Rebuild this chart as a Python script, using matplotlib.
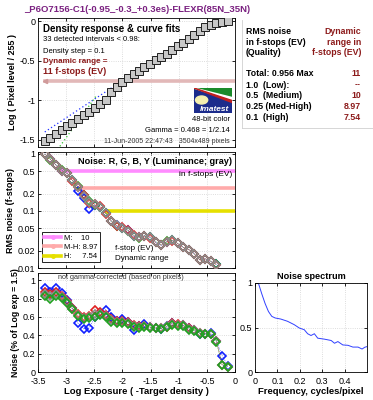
import numpy as np
import matplotlib
matplotlib.use("Agg")
import matplotlib.pyplot as plt
from matplotlib.lines import Line2D
from matplotlib.patches import Rectangle, Polygon, Circle

plt.rcParams['font.family'] = ['Liberation Sans', 'DejaVu Sans']
plt.rcParams['font.size'] = 6

# ---------------- data ----------------
log_exposure = [-3.38, -3.28, -3.18, -3.08, -2.99, -2.89, -2.79, -2.69, -2.59, -2.49,
                -2.39, -2.30, -2.20, -2.10, -2.00, -1.90, -1.80, -1.71, -1.61, -1.51,
                -1.41, -1.31, -1.21, -1.12, -1.02, -0.92, -0.82, -0.72, -0.62, -0.53,
                -0.43, -0.33, -0.23, -0.13]

log_pixel = [-1.51, -1.47, -1.42, -1.38, -1.33, -1.29, -1.24, -1.19, -1.15, -1.10,
             -1.05, -0.99, -0.90, -0.83, -0.77, -0.72, -0.67, -0.625, -0.58, -0.54,
             -0.49, -0.45, -0.41, -0.37, -0.32, -0.27, -0.22, -0.17, -0.12, -0.08,
             -0.045, -0.025, -0.012, -0.003]

gamma_fit_x = [-3.38, -0.95]
gamma_fit_y = [-1.40, -0.26]
shadow_fit_x = [-3.15, -2.45]
shadow_fit_y = [-1.62, -0.93]
dr_marker_y = -0.76

# RMS noise in f-stops (middle panel), NaN = not plotted
noise_fstop_Y = [1.0, 0.81, 0.64, 0.51, 0.47, 0.35, 0.265, 0.18, 0.144, 0.13,
                 0.117, 0.092, 0.068, 0.056, 0.051, 0.045, 0.037, 0.035, 0.037, 0.035,
                 0.028, 0.025, 0.029, 0.031, 0.027, 0.023, 0.021, 0.0177, 0.0138, 0.0145,
                 0.013, 0.0115, np.nan, np.nan]
noise_fstop_R = [0.98, 0.80, 0.63, 0.50, 0.46, 0.34, 0.26, 0.19, 0.14, 0.135,
                 0.12, 0.09, 0.066, 0.055, 0.052, 0.046, 0.038, 0.035, 0.036, 0.034,
                 0.028, 0.025, 0.028, 0.030, 0.027, 0.023, 0.021, 0.0175, 0.0137, 0.0146,
                 0.0132, 0.0114, np.nan, np.nan]
noise_fstop_G = [0.99, 0.79, 0.65, 0.52, 0.47, 0.35, 0.27, 0.19, 0.15, 0.128,
                 0.115, 0.093, 0.067, 0.054, 0.050, 0.044, 0.037, 0.034, 0.037, 0.035,
                 0.029, 0.025, 0.030, 0.031, 0.027, 0.023, 0.021, 0.0178, 0.0139, 0.0145,
                 0.0131, 0.0116, np.nan, np.nan]
noise_fstop_B = [1.0, 0.82, 0.64, 0.51, 0.46, 0.35, 0.225, 0.17, 0.11, 0.125,
                 0.118, 0.093, 0.066, 0.056, 0.051, 0.046, 0.036, 0.035, 0.037, 0.035,
                 0.028, 0.025, 0.029, 0.031, 0.027, 0.023, 0.021, 0.0177, 0.0138, 0.0145,
                 0.013, 0.0116, np.nan, np.nan]

# Noise as % of log exposure (bottom panel)
noise_pct_Y = [0.85, 0.83, 0.85, 0.82, 0.76, 0.69, 0.62, 0.59, 0.60, 0.63,
               0.63, 0.61, 0.57, 0.55, 0.55, 0.54, 0.50, 0.49, 0.50, 0.49,
               0.48, 0.48, 0.50, 0.52, 0.51, 0.51, 0.47, 0.46, 0.43, 0.42,
               0.42, 0.34, 0.08, 0.06]
noise_pct_R = [0.87, 0.85, 0.87, 0.83, 0.77, 0.70, 0.63, 0.60, 0.61, 0.68,
               0.66, 0.62, 0.58, 0.56, 0.56, 0.55, 0.51, 0.50, 0.50, 0.49,
               0.48, 0.48, 0.49, 0.53, 0.52, 0.51, 0.48, 0.46, 0.43, 0.42,
               0.41, 0.34, 0.08, 0.06]
noise_pct_G = [0.83, 0.80, 0.83, 0.81, 0.75, 0.69, 0.61, 0.58, 0.59, 0.60,
               0.62, 0.60, 0.55, 0.54, 0.54, 0.52, 0.49, 0.48, 0.49, 0.48,
               0.48, 0.47, 0.49, 0.51, 0.50, 0.50, 0.46, 0.45, 0.42, 0.41,
               0.41, 0.33, 0.08, 0.06]
noise_pct_B = [0.92, 0.87, 0.92, 0.86, 0.79, 0.70, 0.53, 0.47, 0.48, 0.60,
               0.64, 0.68, 0.60, 0.56, 0.58, 0.55, 0.46, 0.50, 0.52, 0.49,
               0.48, 0.47, 0.50, 0.53, 0.51, 0.51, 0.48, 0.46, 0.42, 0.42,
               0.43, 0.34, 0.18, 0.07]

# Dynamic-range thresholds (middle panel)
dr_levels = [0.5, 0.25, 0.1]
dr_start_x = [-3.10, -2.75, -2.28]
dr_colors = ['#ff8cff', '#ffaaaa', '#e6e000']
dr_labels = ['M:    10', 'M-H: 8.97', 'H:     7.54']

# Noise spectrum
freq = [0.015, 0.03, 0.045, 0.06, 0.075, 0.09, 0.115, 0.145, 0.175, 0.198,
        0.22, 0.235, 0.25, 0.265, 0.28, 0.31, 0.34, 0.355, 0.37, 0.392,
        0.415, 0.437, 0.46, 0.478, 0.49, 0.51]
spectrum = [1.0, 0.88, 0.77, 0.68, 0.625, 0.607, 0.595, 0.57, 0.532, 0.494,
            0.475, 0.43, 0.41, 0.43, 0.38, 0.369, 0.354, 0.323, 0.342, 0.304,
            0.30, 0.28, 0.28, 0.258, 0.278, 0.293]

# text table
table_left = ['Total: 0.956 Max', '1.0  (Low):', '0.5  (Medium)', '0.25 (Med-High)', '0.1  (High)']
table_right = ['11', '--', '10', '8.97', '7.54']

DARKRED = '#8c1a1a'
W, H = 373, 400


def box(l, t, r, b):
    return [l / W, 1 - b / H, (r - l) / W, (b - t) / H]


fig = plt.figure(figsize=(W / 100, H / 100), dpi=100)
fig.patch.set_facecolor('white')


def style(ax):
    ax.tick_params(direction='in', length=2.5, width=0.6, labelsize=6.5, pad=2,
                   top=True, right=True)
    for s in ax.spines.values():
        s.set_linewidth(0.6)
    ax.grid(True, color='#d2d2d2', linestyle=':', linewidth=0.6)
    ax.set_axisbelow(True)


fig.text(137 / W, 1 - 10 / H, '_P6O7156-C1(-0.95_-0.3_+0.3es)-FLEXR(85N_35N)',
         ha='center', va='center', fontsize=6.8, fontweight='bold', color='#7a2080')

# ---------------- top panel ----------------
ax1 = fig.add_axes(box(38, 18, 235, 147))
style(ax1)
ax1.set_xlim(-3.5, 0)
ax1.set_ylim(-1.59, 0.04)
ax1.set_xticks([-3.5, -3, -2.5, -2, -1.5, -1, -0.5, 0])
ax1.set_xticklabels([])
ax1.set_yticks([-1.5, -1, -0.5, 0])
ax1.set_yticklabels(['-1.5', '-1', '-0.5', '0'])
ax1.plot([log_exposure[0], 0], [dr_marker_y, dr_marker_y], color='#e2b8b8', lw=2.6, zorder=2)
ax1.plot([log_exposure[0]], [dr_marker_y], marker='<', color='#d09a9a', ms=3, zorder=2)
ax1.plot(gamma_fit_x, gamma_fit_y, color='#2030ff', ls=(0, (1, 2)), lw=0.9, zorder=3)
ax1.plot(shadow_fit_x, shadow_fit_y, color='#30c030', ls=(0, (1, 2)), lw=0.9, zorder=3)
ax1.plot(log_exposure, log_pixel, ls='none', marker='s', ms=5.2, mfc='#c8c8c8',
         mec='#202020', mew=0.7, zorder=4)
ax1.set_ylabel('Log ( Pixel level / 255 )', fontsize=6.5, fontweight='bold', labelpad=2)
t = ax1.transAxes
ax1.text(0.025, 0.915, 'Density response & curve fits', transform=t, fontsize=7,
         fontweight='bold', va='center')
ax1.text(0.025, 0.83, '33 detected intervals < 0.98:', transform=t, fontsize=5.5, va='center')
ax1.text(0.025, 0.74, 'Density step = 0.1', transform=t, fontsize=5.5, va='center')
ax1.text(0.025, 0.66, 'Dynamic range =', transform=t, fontsize=5.8, va='center',
         color=DARKRED, fontweight='bold')
ax1.text(0.025, 0.585, '11 f-stops (EV)', transform=t, fontsize=6.5, va='center',
         color=DARKRED, fontweight='bold')
ax1.text(0.88, 0.21, '48-bit color', transform=t, fontsize=5.5, ha='center', va='center')
ax1.text(0.975, 0.13, 'Gamma = 0.468 = 1/2.14', transform=t, fontsize=5.5, ha='right', va='center')
ax1.text(0.975, 0.045, '11-Jun-2005 22:47:43   3504x489 pixels', transform=t, fontsize=5,
         ha='right', va='center', color='#333333')

# logo
axl = fig.add_axes(box(194, 88, 232, 113))
axl.set_xlim(0, 1)
axl.set_ylim(0, 1)
axl.axis('off')
axl.add_patch(Rectangle((0, 0), 1, 1, color='#1c2c8c'))
axl.add_patch(Polygon([[0, 1], [1, 1], [1, 0.62]], color='#1a8a2a'))
axl.add_patch(Polygon([[0, 1], [1, 0.62], [1, 0.50]], color='white'))
axl.add_patch(Polygon([[0, 1], [1, 0.50], [1, 0.42]], color='#c02020'))
axl.add_patch(Circle((0.2, 0.52), 0.16, color='#f5f0b0', transform=axl.transData))
axl.text(0.55, 0.15, 'Imatest', color='white', fontsize=6, fontweight='bold',
         style='italic', ha='center', va='center')

# ---------------- middle panel ----------------
ax2 = fig.add_axes(box(38, 152, 235, 268))
style(ax2)
ax2.set_yscale('log')
ax2.set_xlim(-3.5, 0)
ax2.set_ylim(0.01, 1.08)
ax2.set_xticks([-3.5, -3, -2.5, -2, -1.5, -1, -0.5, 0])
ax2.set_xticklabels([])
ax2.set_yticks([0.01, 0.02, 0.05, 0.1, 0.2, 0.5, 1])
ax2.set_yticklabels(['0.01', '0.02', '0.05', '0.1', '0.2', '0.5', '1'])
ax2.yaxis.set_minor_locator(matplotlib.ticker.NullLocator())
handles = []
for lvl, x0, c, lab in zip(dr_levels, dr_start_x, dr_colors, dr_labels):
    ax2.plot([x0, 0], [lvl, lvl], color=c, lw=2.6, zorder=2)
    ax2.plot([x0], [lvl], marker='o', color=c, ms=2.5, zorder=2)
    handles.append(Line2D([], [], color=c, lw=2.6, marker='o', ms=2.5, label=lab))
for vals, c in [(noise_fstop_B, '#1020ff'), (noise_fstop_G, '#20a020'),
                (noise_fstop_R, '#e02020'), (noise_fstop_Y, '#8c8c8c')]:
    ax2.plot(log_exposure, vals, ls=':', lw=0.5, color=c, marker='D', ms=4.3, mfc='none',
             mec=c, mew=1.2, zorder=4)
ax2.set_ylabel('RMS noise (f-stops)', fontsize=6.5, fontweight='bold', labelpad=2)
ax2.text(0.985, 0.92, 'Noise: R, G, B, Y (Luminance; gray)', transform=ax2.transAxes,
         fontsize=6.6, fontweight='bold', ha='right', va='center')
ax2.text(0.985, 0.81, 'in f-stops (EV)', transform=ax2.transAxes, fontsize=6,
         ha='right', va='center')
ax2.text(0.39, 0.17, 'f-stop (EV)', transform=ax2.transAxes, fontsize=5.8, va='center')
ax2.text(0.39, 0.085, 'Dynamic range', transform=ax2.transAxes, fontsize=5.8, va='center')
leg = ax2.legend(handles=handles, loc='upper left', bbox_to_anchor=(0.02, 0.31),
                 fontsize=5.5, frameon=True, fancybox=False, edgecolor='black',
                 framealpha=1, borderpad=0.3, labelspacing=0.25, handlelength=2.2,
                 handletextpad=0.4, borderaxespad=0)
leg.get_frame().set_linewidth(0.6)

# ---------------- bottom panel ----------------
ax3 = fig.add_axes(box(38, 273, 235, 372))
style(ax3)
ax3.tick_params(axis='x', pad=3.5)
ax3.set_xlim(-3.5, 0)
ax3.set_ylim(0, 1.08)
ax3.set_xticks([-3.5, -3, -2.5, -2, -1.5, -1, -0.5, 0])
ax3.set_xticklabels(['-3.5', '-3', '-2.5', '-2', '-1.5', '-1', '-0.5', '0'])
ax3.set_yticks([0, 0.2, 0.4, 0.6, 0.8, 1])
ax3.set_yticklabels(['0', '0.2', '0.4', '0.6', '0.8', '1'])
for vals, c in [(noise_pct_B, '#1020ff'), (noise_pct_R, '#e02020'),
                (noise_pct_Y, '#8c8c8c'), (noise_pct_G, '#20a020')]:
    ax3.plot(log_exposure, vals, ls=':', lw=0.5, color=c, marker='D', ms=4.3, mfc='none',
             mec=c, mew=1.2, zorder=4)
ax3.set_ylabel('Noise (% of Log exp = 1.5)', fontsize=6.3, fontweight='bold', labelpad=2)
ax3.set_xlabel('Log Exposure ( -Target density )', fontsize=6.8, fontweight='bold', labelpad=1)
ax3.text(0.42, 0.95, 'not gamma-corrected (based on pixels)', transform=ax3.transAxes,
         fontsize=5.2, ha='center', va='center', color='#333333')

# ---------------- text table ----------------
axt = fig.add_axes(box(242, 20, 373, 128))
axt.set_xlim(0, 1)
axt.set_ylim(0, 1)
axt.set_xticks([])
axt.set_yticks([])
for side in ['top', 'right']:
    axt.spines[side].set_visible(False)
for side in ['left', 'bottom']:
    axt.spines[side].set_color('#d0d0d0')
    axt.spines[side].set_linewidth(0.6)


def ty(py):
    return (128 - py) / 108


xl, xr = (246 - 242) / 131, (361 - 242) / 131
for py, s in zip([31.7, 42.3, 52.8], ['RMS noise', 'in f-stops (EV)', '(Quality)']):
    axt.text(xl, ty(py), s, fontsize=6.3, fontweight='bold', va='center')
for py, s in zip([31.7, 42.3, 52.8], ['Dynamic', 'range in', 'f-stops (EV)']):
    axt.text(xr, ty(py), s, fontsize=6.3, fontweight='bold', va='center', ha='right',
             color=DARKRED)
for py, a, b in zip([74, 85, 96, 106.5, 117], table_left, table_right):
    axt.text(xl, ty(py), a, fontsize=6.3, fontweight='bold', va='center')
    axt.text(xr, ty(py), b, fontsize=6.3, fontweight='bold', va='center', ha='right',
             color=DARKRED)

# ---------------- noise spectrum ----------------
ax4 = fig.add_axes(box(255, 283, 367, 372))
style(ax4)
ax4.tick_params(axis='x', pad=3.5)
ax4.set_xlim(0, 0.5)
ax4.set_ylim(0, 1)
ax4.set_xticks([0, 0.1, 0.2, 0.3, 0.4])
ax4.set_xticklabels(['0', '0.1', '0.2', '0.3', '0.4'])
ax4.set_yticks([0, 0.5, 1])
ax4.set_yticklabels(['0', '0.5', '1'])
ax4.plot(freq, spectrum, color='#3040ff', lw=0.7, clip_on=True)
ax4.set_title('Noise spectrum', fontsize=6.6, fontweight='bold', pad=3)
ax4.set_xlabel('Frequency, cycles/pixel', fontsize=6.8, fontweight='bold', labelpad=1)

fig.savefig('out.png', dpi=100, facecolor='white')
